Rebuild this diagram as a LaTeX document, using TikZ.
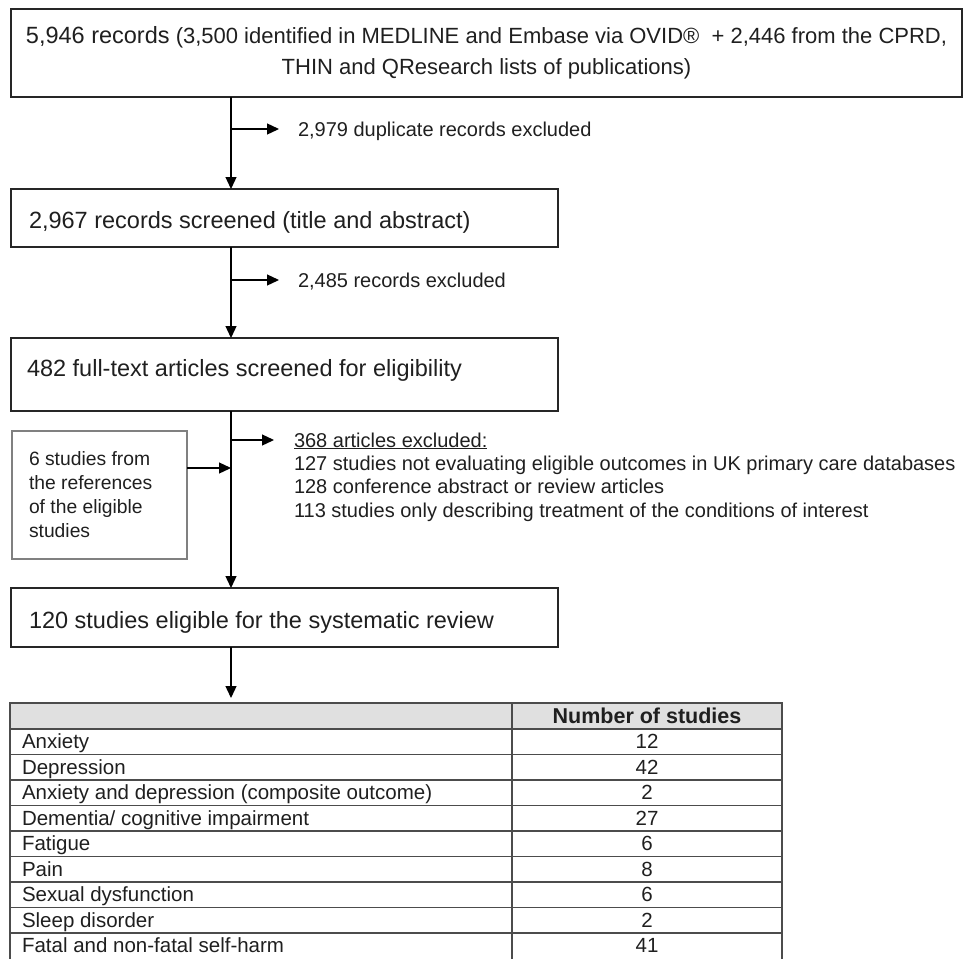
\documentclass[tikz,border=0pt]{standalone}
\usepackage{fontspec}
\setmainfont{Liberation Sans}
\usetikzlibrary{arrows.meta}
\begin{document}
\begin{tikzpicture}[x=1pt,y=-1pt,
  every node/.style={inner sep=0pt, outer sep=0pt, text=black!88},
  flowbox/.style={draw=black!85, line width=1.8pt, rectangle, anchor=north west},
  refbox/.style={draw=black!50, line width=1.3pt, rectangle, anchor=north west},
  boxtxt/.style={font=\fontsize{23.5}{28}\selectfont, anchor=base west},
  sidetxt/.style={font=\fontsize{20}{23.4}\selectfont, anchor=base west},
  listtxt/.style={font=\fontsize{20}{23.4}\selectfont, anchor=north west, align=left},
  reftxt/.style={font=\fontsize{19.3}{24}\selectfont, anchor=north west, align=left},
  celltxt/.style={font=\fontsize{20.5}{24}\selectfont},
  arr/.style={draw=black, line width=1.3pt, -{Triangle[length=12pt,width=11pt]}},
  tline/.style={draw=black!70, line width=1.3pt}
]
\useasboundingbox (0,0) rectangle (965,958);

% boxes
\node[flowbox, minimum width=951pt, minimum height=88pt, align=center,
      font=\fontsize{22}{31}\selectfont] (b1) at (11,9)
  {{\fontsize{23.5}{31}\selectfont 5,946 records} (3,500 identified in MEDLINE and Embase via OVID®\ \ + 2,446 from the CPRD,\\
   THIN and QResearch lists of publications)};
\node[flowbox, minimum width=547pt, minimum height=58pt] (b2) at (11,189) {};
\node[boxtxt] (t2) at (29,228.5) {2,967 records screened (title and abstract)};
\node[flowbox, minimum width=547pt, minimum height=73pt] (b3) at (11,338) {};
\node[boxtxt] (t3) at (27,376.5) {482 full-text articles screened for eligibility};
\node[flowbox, minimum width=547pt, minimum height=59pt] (b4) at (11,588) {};
\node[boxtxt] (t4) at (29,628.5) {120 studies eligible for the systematic review};

\node[refbox, minimum width=175pt, minimum height=128pt] (lb) at (12,431) {};
\node[reftxt] (lbt) at (29,451.5) {6 studies from\\the references\\of the eligible\\studies};

% side texts
\node[sidetxt] (e1) at (298,136) {2,979 duplicate records excluded};
\node[sidetxt] (e2) at (298,287) {2,485 records excluded};
\node[listtxt] (e3) at (294,432.5) {\underline{368 articles excluded:}\\
127 studies not evaluating eligible outcomes in UK primary care databases\\
128 conference abstract or review articles\\
113 studies only describing treatment of the conditions of interest};

% connectors
\coordinate (sx) at (231,0);
\coordinate (a1) at (231,129); \coordinate (a1e) at (279,129);
\coordinate (a2) at (231,280); \coordinate (a2e) at (279,280);
\coordinate (a3) at (231,440); \coordinate (a3e) at (274,440);
\coordinate (a4) at (231,468);
\coordinate (tab) at (231,703);

\draw[arr] (b1.south -| sx) -- (b2.north -| sx);
\draw[arr] (a1) -- (a1e);
\draw[arr] (b2.south -| sx) -- (b3.north -| sx);
\draw[arr] (a2) -- (a2e);
\draw[arr] (b3.south -| sx) -- (b4.north -| sx);
\draw[arr] (a3) -- (a3e);
\draw[arr] (lb.east |- a4) -- (a4);
\draw[arr, shorten >=5pt] (b4.south -| sx) -- (tab);

% table
\fill[black!12] (10,703) rectangle (782,729);
\foreach \k in {1,...,9}
  \draw[tline] (10,{729+25.5*(\k-1)}) -- (782,{729+25.5*(\k-1)});
\draw[tline] (10,703) rectangle (782,963);
\draw[tline] (512,703) -- (512,963);
\node[celltxt, font=\fontsize{21.5}{24}\selectfont\bfseries, anchor=base] (hd) at (647,723.5) {Number of studies};
\foreach \lab/\num [count=\i] in {Anxiety/12, Depression/42, Anxiety and depression (composite outcome)/2,
   {Dementia/ cognitive impairment}/27, Fatigue/6, Pain/8, Sexual dysfunction/6, Sleep disorder/2,
   Fatal and non-fatal self-harm/41}{
  \pgfmathsetmacro{\yb}{729+25.5*(\i-1)+19.5}
  \node[celltxt, anchor=base west] (r\i) at (22,\yb) {\lab};
  \node[celltxt, anchor=base] (n\i) at (647,\yb) {\num};
}
\end{tikzpicture}
\end{document}
